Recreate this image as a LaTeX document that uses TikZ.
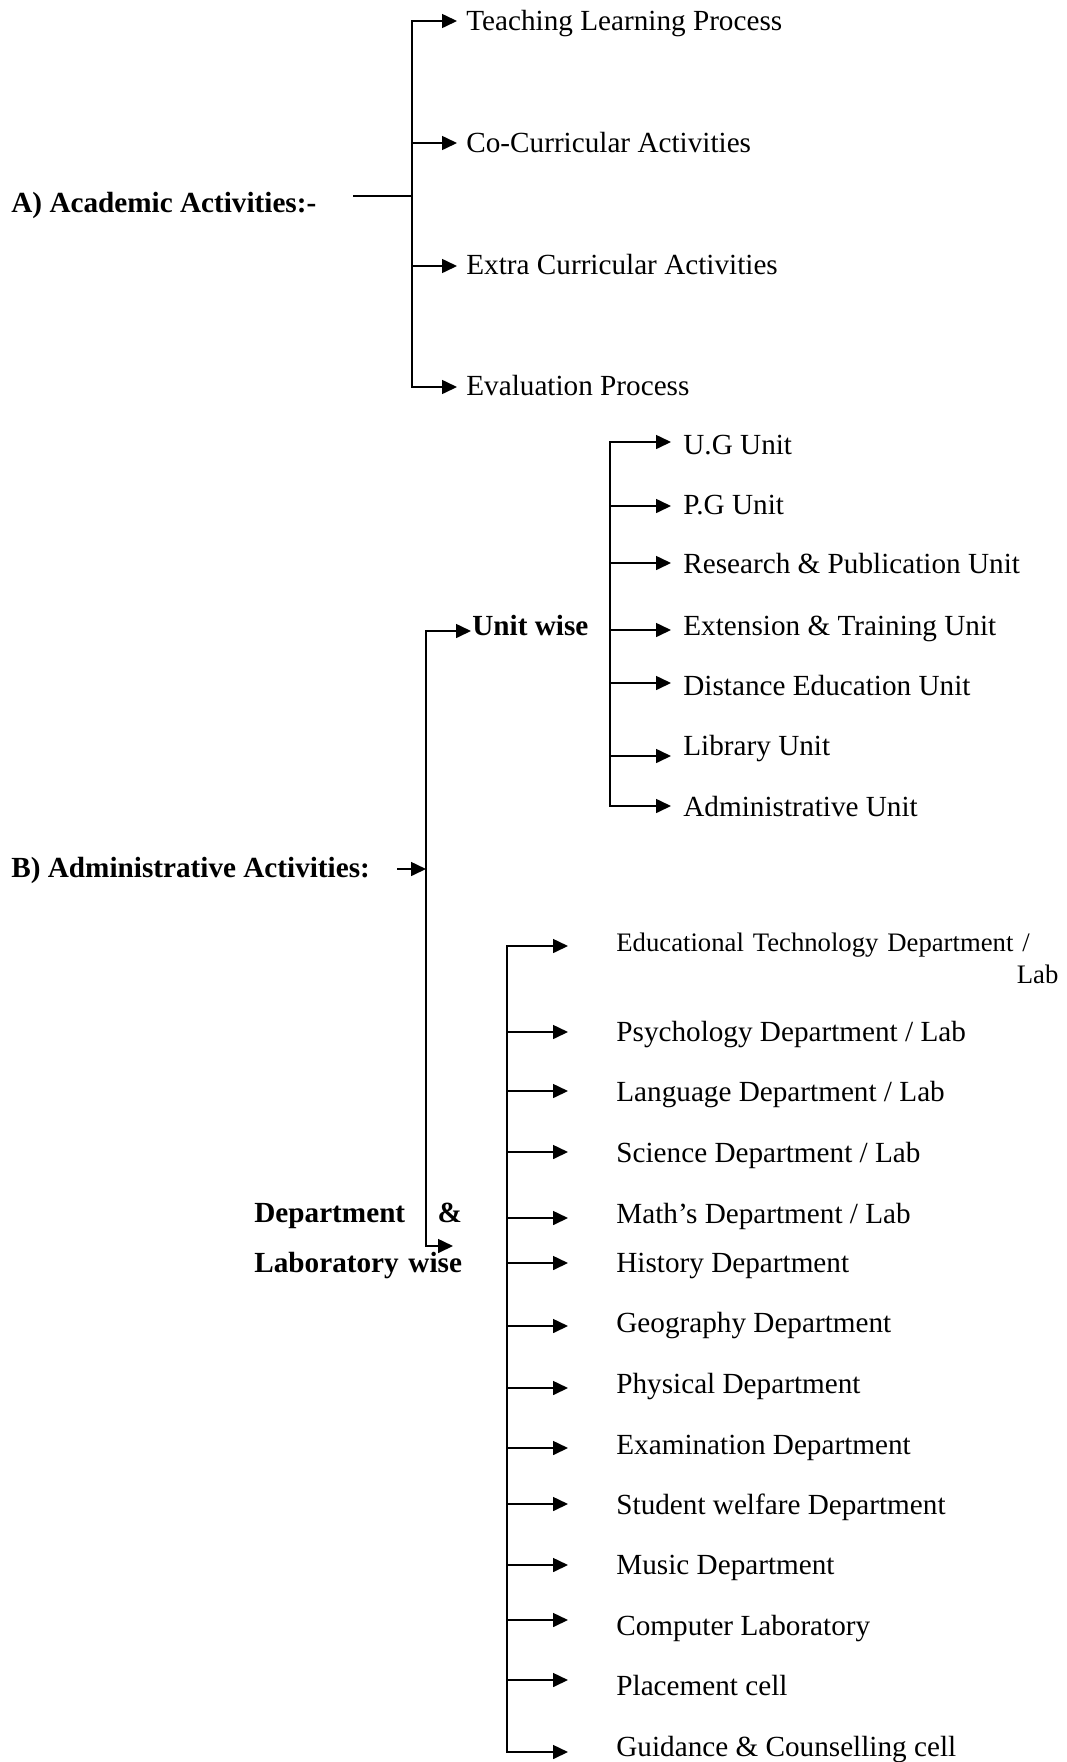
\documentclass[tikz,border=0pt]{standalone}
\usepackage{fontspec}
\setmainfont{Liberation Serif}
\usetikzlibrary{arrows.meta}
\begin{document}
\begin{tikzpicture}[x=0.5pt,y=-0.5pt,
  conn/.style={line width=0.8pt},
  arr/.style={conn,-{Triangle[length=7.5pt,width=7pt]}},
  lbl/.style={anchor=base west,inner sep=0pt,font=\fontsize{14.6pt}{17pt}\selectfont},
  headlbl/.style={anchor=base west,inner sep=0pt,font=\fontsize{14.6pt}{17pt}\selectfont\bfseries},
]
\useasboundingbox (0,0) rectangle (1066,1762);

% ---------- A) Academic ----------
\node[headlbl] (A) at (11,212) {A) Academic Activities:-};
\node[lbl] (a1) at (466,30.5) {Teaching Learning Process};
\node[lbl] (a2) at (466,152.5) {Co-Curricular Activities};
\node[lbl] (a3) at (466,274) {Extra Curricular Activities};
\node[lbl] (a4) at (466,395) {Evaluation Process};
\coordinate (as) at (353,196);
\coordinate (ja) at (412,196);
\coordinate (a1t) at (457,21);
\coordinate (a2t) at (457,143);
\coordinate (a3t) at (457,266);
\coordinate (a4t) at (457,387);
\draw[conn] (as) -- (ja);
\draw[arr] (ja|-a4t) |- (a1t);
\draw[arr] (ja|-a1t) |- (a4t);
\draw[arr] (ja|-a2t) -- (a2t);
\draw[arr] (ja|-a3t) -- (a3t);

% ---------- B) Administrative ----------
\node[headlbl] (B) at (11,877) {B) Administrative Activities:};
\coordinate (bs) at (397,869);
\coordinate (jb) at (426,869);
\draw[arr] (bs) -- (jb);

\node[headlbl] (U) at (472,635) {Unit wise};
\coordinate (ut) at (471,631);
\node[headlbl,text width=140pt,align=left,
      font=\fontsize{14.6pt}{25pt}\selectfont\bfseries] (D) at (254,1222)
      {\setbox0=\hbox{Laboratory wise}\hbox to \wd0{Department\hfill\&}\\Laboratory wise};
\coordinate (dt) at (453,1246);
\draw[arr] (jb|-dt) |- (ut);
\draw[arr] (jb|-ut) |- (dt);

% ---------- Unit wise branch ----------
\node[lbl] (u1) at (683,454.5) {U.G Unit};
\node[lbl] (u2) at (683,514.5) {P.G Unit};
\node[lbl] (u3) at (683,573.5) {Research \& Publication Unit};
\node[lbl] (u4) at (683,635.5) {Extension \& Training Unit};
\node[lbl] (u5) at (683,695.5) {Distance Education Unit};
\node[lbl] (u6) at (683,755.5) {Library Unit};
\node[lbl] (u7) at (683,816.5) {Administrative Unit};
\coordinate (ju) at (610,600);
\coordinate (u1t) at (671,442);
\coordinate (u2t) at (671,506);
\coordinate (u3t) at (671,563);
\coordinate (u4t) at (671,630);
\coordinate (u5t) at (671,683);
\coordinate (u6t) at (671,756);
\coordinate (u7t) at (671,806);
\draw[arr] (ju|-u7t) |- (u1t);
\draw[arr] (ju|-u1t) |- (u7t);
\foreach \k in {u2t,u3t,u4t,u5t,u6t} \draw[arr] (ju|-\k) -- (\k);

% ---------- Department & Laboratory branch ----------
\node[anchor=base west,inner sep=0pt,text width=221pt,align=left,
      font=\fontsize{13.35pt}{16pt}\selectfont] (d1) at (616,951)
      {\mbox{Educational Technology Department /}\\\hspace*{\fill}Lab};
\node[lbl] (d2) at (616,1041.5) {Psychology Department / Lab};
\node[lbl] (d3) at (616,1101.5) {Language Department / Lab};
\node[lbl] (d4) at (616,1162.5) {Science Department / Lab};
\node[lbl] (d5) at (616,1223.5) {Math’s Department / Lab};
\node[lbl] (d6) at (616,1272.5) {History Department};
\node[lbl] (d7) at (616,1332.5) {Geography Department};
\node[lbl] (d8) at (616,1393.5) {Physical Department};
\node[lbl] (d9) at (616,1454.5) {Examination Department};
\node[lbl] (d10) at (616,1514.5) {Student welfare Department};
\node[lbl] (d11) at (616,1574.5) {Music Department};
\node[lbl] (d12) at (616,1635.5) {Computer Laboratory};
\node[lbl] (d13) at (616,1695.5) {Placement cell};
\node[lbl] (d14) at (616,1756.5) {Guidance \& Counselling cell};
\coordinate (jd) at (507,1300);
\coordinate (d1t) at (568,946);
\coordinate (d2t) at (568,1032);
\coordinate (d3t) at (568,1091);
\coordinate (d4t) at (568,1152);
\coordinate (d5t) at (568,1218);
\coordinate (d6t) at (568,1263);
\coordinate (d7t) at (568,1326);
\coordinate (d8t) at (568,1388);
\coordinate (d9t) at (568,1448);
\coordinate (d10t) at (568,1504);
\coordinate (d11t) at (568,1565);
\coordinate (d12t) at (568,1620);
\coordinate (d13t) at (568,1680);
\coordinate (d14t) at (568,1752);
\draw[arr] (jd|-d14t) |- (d1t);
\draw[arr] (jd|-d1t) |- (d14t);
\foreach \k in {d2t,d3t,d4t,d5t,d6t,d7t,d8t,d9t,d10t,d11t,d12t,d13t} \draw[arr] (jd|-\k) -- (\k);
\end{tikzpicture}
\end{document}
